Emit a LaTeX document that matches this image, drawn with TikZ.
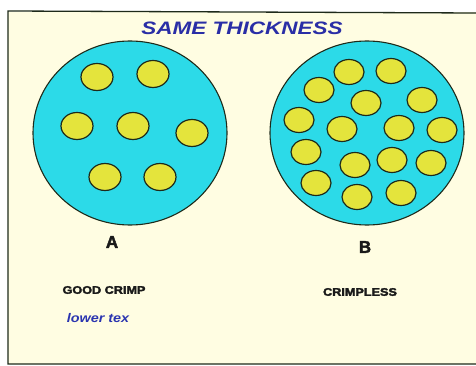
\documentclass[tikz,border=0pt]{standalone}
\usepackage{fontspec}
\setmainfont{Liberation Sans}
\newfontfamily\heavyfont{Liberation Sans}[BoldFeatures={FakeBold=2.5}]
\usepackage{xcolor}
\usetikzlibrary{positioning, shapes.geometric}
\definecolor{FigPaper}{HTML}{FFFDE2}
\definecolor{FigCyan}{HTML}{2CDAE8}
\definecolor{FigYellow}{HTML}{E4E43C}
\definecolor{FigEdge}{HTML}{1E2A1A}
\definecolor{FigTitle}{HTML}{2A2EA6}
\definecolor{FigNote}{HTML}{2B35B0}
\definecolor{FigText}{HTML}{1A1A1A}

\begin{document}
\begin{tikzpicture}[
x=1pt, y=-1pt,
bundle/.style={
draw=FigEdge,
line width=1.1pt,
fill=FigCyan,
ellipse,
minimum width=194pt,
minimum height=184pt,
inner sep=0pt
},
fiber/.style={
draw=FigEdge,
line width=1.2pt,
fill=FigYellow
},
tag/.style={font=\heavyfont\bfseries\fontsize{11}{11}\selectfont, text=FigText},
every node/.style={text=FigText}
]
\useasboundingbox (0,0) rectangle (476,366);

% Paper and frame
\fill[white] (0,0) rectangle (476,366);
\fill[FigPaper] (8,12) rectangle (476,364);
\draw[line width=1.3pt, FigEdge] (476,13) -- (8,11) -- (8,364) -- (476,364);

% Title
\node[font=\heavyfont\bfseries\itshape\fontsize{18}{18}\selectfont, text=FigTitle] (title) at (242,28)
  {\scalebox{1.25}[1]{SAME THICKNESS}};

% Bundle A
\node[bundle] (bundleA) at (130,133) {};
\foreach \fx/\fy in {97/77, 153/74, 77/126, 133/126, 192/133, 105/177, 160/177}
  \draw[fiber] (\fx,\fy) ellipse [x radius=16, y radius=13.5];

% Bundle B
\node[bundle] (bundleB) at (367,133) {};
\foreach \fx/\fy in {349/72, 391/71, 319/90, 422/100, 366/103, 299/120, 342/129, 399/128,
  442/130, 306/152, 355/165, 392/160, 431/163, 316/183, 357/197, 401/193}
  \draw[fiber] (\fx,\fy) ellipse [x radius=15, y radius=12.5];

% Letters
\node[font=\heavyfont\bfseries\fontsize{17}{17}\selectfont] (labelA) at (112,242) {A};
\node[font=\heavyfont\bfseries\fontsize{17}{17}\selectfont] (labelB) at (365,247) {B};

% Notes
\node[tag] (goodcrimp) at (104,290) {\scalebox{1.15}[1]{GOOD CRIMP}};
\node[tag] (crimpless) at (360,292) {\scalebox{1.15}[1]{CRIMPLESS}};
\node[font=\heavyfont\bfseries\itshape\fontsize{12.5}{12.5}\selectfont, text=FigNote] (lowertex) at (98,318)
  {\scalebox{1.15}[1]{lower tex}};

\end{tikzpicture}
\end{document}
